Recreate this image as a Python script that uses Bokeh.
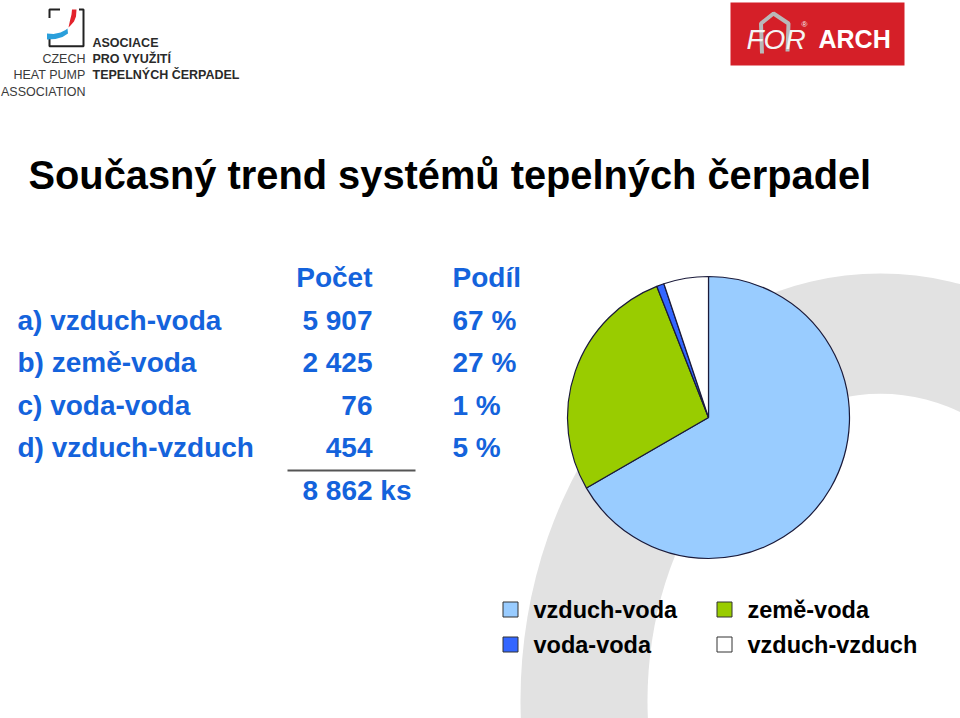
from bokeh.plotting import figure
from bokeh.models import ColumnDataSource
from bokeh.core.properties import value
from bokeh.embed import file_html
from bokeh.resources import INLINE
import math

# ---------------- data ----------------
categories = ["vzduch-voda", "země-voda", "voda-voda", "vzduch-vzduch"]
row_labels = ["a) vzduch-voda", "b) země-voda", "c) voda-voda", "d) vzduch-vzduch"]
counts = [5907, 2425, 76, 454]
colors = ["#99ccff", "#99cc00", "#3366ff", "#ffffff"]
title_text = "Současný trend systémů tepelných čerpadel"
col_count_header = "Počet"
col_share_header = "Podíl"
unit = "ks"

W, H = 960, 718
FONT = value("Liberation Sans")
BLUE = "#1463dc"


def Y(py):
    return H - py


def fmt(n):
    return f"{n:,}".replace(",", " ")


total = sum(counts)
shares = [c / total for c in counts]
share_labels = [f"{round(s * 100)} %" for s in shares]

p = figure(width=W, height=H, x_range=(0, W), y_range=(0, H), min_border=0,
           toolbar_location=None, output_backend="svg",
           x_axis_location=None, y_axis_location=None)
p.grid.visible = False
p.outline_line_color = None
p.background_fill_color = "white"
p.border_fill_color = "white"

# ---------------- decorative grey ring ----------------
p.ellipse(x=880, y=Y(700), width=720, height=854, fill_color="#e2e2e2", line_color=None)
p.ellipse(x=880, y=Y(700), width=466, height=614, fill_color="white", line_color=None)

# ---------------- title ----------------
p.text(x=[28], y=[Y(174)], text=[title_text], text_font=FONT, text_font_style="bold",
       text_font_size="39.8px", text_color="black", text_baseline="middle")

# ---------------- table ----------------
row_mid = [320, 362, 405, 447]
tsrc = ColumnDataSource(dict(
    lx=[17] * 4, cx=[372] * 4, sx=[452] * 4,
    y=[Y(b) for b in row_mid],
    lab=row_labels, cnt=[fmt(c) for c in counts], shr=share_labels))
common = dict(text_font=FONT, text_font_style="bold", text_font_size="28px",
              text_color=BLUE, text_baseline="middle")
p.text(x="lx", y="y", text="lab", source=tsrc, text_align="left", **common)
p.text(x="cx", y="y", text="cnt", source=tsrc, text_align="right", **common)
p.text(x="sx", y="y", text="shr", source=tsrc, text_align="left", **common)
p.text(x=[372], y=[Y(277)], text=[col_count_header], text_align="right", **common)
p.text(x=[452], y=[Y(277)], text=[col_share_header], text_align="left", **common)
p.segment(x0=[287], y0=[Y(470)], x1=[415], y1=[Y(470)], line_color="#555555", line_width=2)
p.text(x=[302], y=[Y(490)], text=[f"{fmt(total)} {unit}"], text_align="left", **common)

# ---------------- pie ----------------
cum = [0.0]
for s in shares:
    cum.append(cum[-1] + s)
start = [math.pi / 2 - cum[i + 1] * 2 * math.pi for i in range(len(shares))]
end = [math.pi / 2 - cum[i] * 2 * math.pi for i in range(len(shares))]
psrc = ColumnDataSource(dict(start=start, end=end, color=colors, cat=categories))
p.wedge(x=708, y=Y(417), radius=141, start_angle="start", end_angle="end",
        fill_color="color", line_color="#1a1a3a", line_width=1.2, source=psrc)

# ---------------- legend ----------------
lx = [510 if i % 2 == 0 else 724 for i in range(4)]
ly = [Y(609) if i < 2 else Y(644) for i in range(4)]
lsrc = ColumnDataSource(dict(x=lx, y=ly, tx=[x + 23 for x in lx], color=colors, cat=categories))
p.rect(x="x", y="y", width=15, height=15, fill_color="color", line_color="#333333",
       line_width=1, source=lsrc)
p.text(x="tx", y="y", text="cat", source=lsrc, text_font=FONT, text_font_style="bold",
       text_font_size="23.5px", text_color="black", text_baseline="middle")

# ---------------- left logo ----------------
p.multi_line(xs=[[49, 49, 59.5], [49, 49, 83, 83, 78.5]],
             ys=[[Y(17.5), Y(9), Y(9)], [Y(35.5), Y(45.7), Y(45.7), Y(9), Y(9)]],
             line_color="#222222", line_width=2)
p.patch(x=[71.5, 76, 75.5, 73.5, 70, 68, 69.5, 71],
        y=[Y(9), Y(9), Y(16), Y(21), Y(25), Y(27), Y(20), Y(14)],
        fill_color="#e3222b", line_color=None)
p.patch(x=[46.5, 53, 60, 65, 67, 67.5, 62, 55, 46.5],
        y=[Y(33), Y(33.5), Y(32), Y(29.5), Y(28), Y(33), Y(36.5), Y(38.5), Y(39)],
        fill_color="#2a9fdb", line_color=None)
logo_font = dict(text_font=FONT, text_font_size="12.5px", text_baseline="middle")
p.text(x=[92, 92, 92], y=[Y(42), Y(58), Y(74)],
       text=["ASOCIACE", "PRO VYUŽITÍ", "TEPELNÝCH ČERPADEL"],
       text_font_style="bold", text_color="#2a2a2a", text_align="left", **logo_font)
p.text(x=[85, 85, 85], y=[Y(58), Y(74), Y(91)],
       text=["CZECH", "HEAT PUMP", "ASSOCIATION"],
       text_color="#3a3a3a", text_align="right", **logo_font)

# ---------------- right logo ----------------
p.quad(left=730, right=904, top=Y(2), bottom=Y(65), fill_color="#d51f28", line_color=None)
p.line(x=[761.5, 760.5, 773, 788, 787], y=[Y(53), Y(23), Y(13), Y(23), Y(51)],
       line_color="#b9b9b9", line_width=4)
p.text(x=[746], y=[Y(39)], text=["FOR"], text_font=FONT, text_font_style="italic",
       text_font_size="28px", text_color="#f4f4f4", text_baseline="middle")
p.text(x=[801], y=[Y(24)], text=["®"], text_font=FONT, text_font_size="8px",
       text_color="#f4f4f4", text_baseline="middle")
p.text(x=[818], y=[Y(38)], text=["ARCH"], text_font=FONT, text_font_style="bold",
       text_font_size="25px", text_color="white", text_baseline="middle")

open("out.html", "w").write(file_html(p, INLINE))
